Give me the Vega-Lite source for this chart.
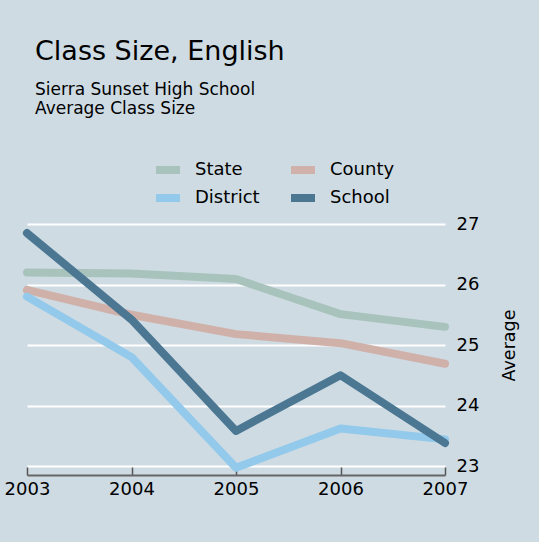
{
  "$schema": "https://vega.github.io/schema/vega-lite/v6.json",
  "width": 424,
  "height": 242,
  "autosize": {"type": "none"},
  "padding": {"left": 24, "top": 224, "right": 91, "bottom": 76},
  "background": "#cedbe3",
  "title": {
    "text": "Class Size, English",
    "subtitle": ["Sierra Sunset High School", "Average Class Size"],
    "anchor": "start",
    "frame": "group",
    "dx": 11,
    "dy": -36,
    "font": "DejaVu Sans",
    "fontSize": 27,
    "fontWeight": "normal",
    "color": "#000000",
    "subtitleFont": "DejaVu Sans",
    "subtitleFontSize": 17,
    "subtitleColor": "#000000",
    "subtitleLineHeight": 19.5,
    "subtitlePadding": 16
  },
  "config": {
    "view": {"stroke": null},
    "font": "DejaVu Sans"
  },
  "data": {
    "values": [
      {"year": 2003, "group": "State", "value": 26.20},
      {"year": 2004, "group": "State", "value": 26.18},
      {"year": 2005, "group": "State", "value": 26.09},
      {"year": 2006, "group": "State", "value": 25.51},
      {"year": 2007, "group": "State", "value": 25.30},
      {"year": 2003, "group": "County", "value": 25.91},
      {"year": 2004, "group": "County", "value": 25.50},
      {"year": 2005, "group": "County", "value": 25.18},
      {"year": 2006, "group": "County", "value": 25.03},
      {"year": 2007, "group": "County", "value": 24.69},
      {"year": 2003, "group": "District", "value": 25.80},
      {"year": 2004, "group": "District", "value": 24.80},
      {"year": 2005, "group": "District", "value": 22.97},
      {"year": 2006, "group": "District", "value": 23.62},
      {"year": 2007, "group": "District", "value": 23.44},
      {"year": 2003, "group": "School", "value": 26.85},
      {"year": 2004, "group": "School", "value": 25.42},
      {"year": 2005, "group": "School", "value": 23.58},
      {"year": 2006, "group": "School", "value": 24.50},
      {"year": 2007, "group": "School", "value": 23.38}
    ]
  },
  "mark": {"type": "line", "strokeWidth": 8, "strokeCap": "round", "strokeJoin": "round", "clip": false},
  "encoding": {
    "x": {
      "field": "year",
      "type": "quantitative",
      "scale": {"domain": [2003, 2007], "range": [3, 421], "zero": false, "nice": false},
      "axis": {
        "title": null,
        "values": [2003, 2004, 2005, 2006, 2007],
        "format": "d",
        "grid": false,
        "offset": 9,
        "domainColor": "#666666",
        "domainWidth": 2,
        "tickColor": "#555555",
        "tickWidth": 1.5,
        "tickSize": -8,
        "labelFlush": false,
        "labelAlign": "center",
        "labelFont": "DejaVu Sans",
        "labelFontSize": 18,
        "labelColor": "#000000",
        "labelPadding": 13
      }
    },
    "y": {
      "field": "value",
      "type": "quantitative",
      "scale": {"domain": [23, 27], "zero": false, "nice": false},
      "axis": {
        "orient": "right",
        "title": "Average",
        "titleAngle": 270,
        "titleAlign": "center",
        "titleBaseline": "middle",
        "titleX": 61,
        "titleY": 121,
        "titleFont": "DejaVu Sans",
        "titleFontSize": 17.5,
        "titleFontWeight": "normal",
        "titleColor": "#000000",
        "values": [23, 24, 25, 26, 27],
        "domain": false,
        "ticks": false,
        "grid": true,
        "gridColor": "#ffffff",
        "gridWidth": 2,
        "gridOpacity": 1,
        "labelFont": "DejaVu Sans",
        "labelFontSize": 18,
        "labelColor": "#000000",
        "labelPadding": 8
      }
    },
    "color": {
      "field": "group",
      "type": "nominal",
      "sort": ["State", "County", "District", "School"],
      "scale": {
        "domain": ["State", "County", "District", "School"],
        "range": ["#a8c3bc", "#d0b1aa", "#93c9eb", "#4b7793"]
      },
      "legend": {
        "title": null,
        "orient": "none",
        "legendX": 132,
        "legendY": -66,
        "direction": "horizontal",
        "columns": 2,
        "symbolType": "M-2.5,0H1.5",
        "symbolSize": 256,
        "symbolStrokeWidth": 8,
        "clipHeight": 24,
        "labelFont": "DejaVu Sans",
        "labelFontSize": 18,
        "labelColor": "#000000",
        "labelOffset": 15,
        "columnPadding": 31,
        "rowPadding": 4,
        "padding": 0,
        "labelLimit": 200
      }
    }
  }
}
